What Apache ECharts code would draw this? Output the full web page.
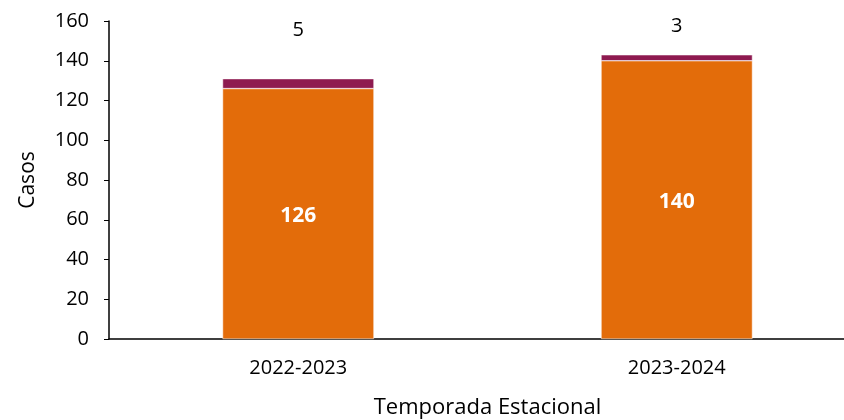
<!DOCTYPE html>
<html>
<head>
<meta charset="utf-8">
<script src="https://cdn.jsdelivr.net/npm/echarts@6/dist/echarts.min.js"></script>
<style>
  html, body { margin: 0; padding: 0; background: #fff; }
  #chart { width: 844px; height: 420px; }
</style>
</head>
<body>
<div id="chart"></div>
<script>
const seasons = ["2022-2023", "2023-2024"];
const mainCases = [126, 140];
const otherCases = [5, 3];
const otherLabelOffsets = [-33, -13];

const font = "'Open Sans', 'Noto Sans', sans-serif";
const chart = echarts.init(document.getElementById("chart"));

chart.setOption({
  animation: false,
  grid: { left: 109, right: -22, top: 21, bottom: 81, outerBoundsMode: "none", containLabel: false },
  xAxis: {
    type: "category",
    data: seasons,
    name: "Temporada Estacional",
    nameLocation: "middle",
    nameGap: 58,
    nameTextStyle: { color: "#000", fontSize: 22, fontFamily: font },
    axisLine: { lineStyle: { color: "#000", width: 1.5 } },
    axisTick: { alignWithLabel: true, length: 5, lineStyle: { color: "#000" } },
    axisLabel: { color: "#000", fontSize: 20, fontFamily: font, margin: 19 },
  },
  yAxis: {
    type: "value",
    min: 0,
    max: 160,
    interval: 20,
    name: "Casos",
    nameLocation: "middle",
    nameGap: 70,
    nameTextStyle: { color: "#000", fontSize: 21, fontFamily: font },
    axisLine: { show: true, lineStyle: { color: "#000", width: 1.5 } },
    axisTick: { show: true, length: 5, lineStyle: { color: "#000" } },
    axisLabel: { color: "#000", fontSize: 20, fontFamily: font, margin: 20 },
    splitLine: { show: false },
  },
  series: [
    {
      type: "bar",
      stack: "total",
      data: mainCases,
      barWidth: "40%",
      itemStyle: { color: "#E36C0A", borderColor: "#fff", borderWidth: 0.5 },
      label: {
        show: true,
        position: "inside",
        offset: [0, 2],
        color: "#fff",
        fontWeight: "bold",
        fontSize: 21,
        fontFamily: font,
      },
    },
    {
      type: "bar",
      stack: "total",
      data: otherCases.map((v, i) => ({
        value: v,
        label: { offset: [0, otherLabelOffsets[i]] },
      })),
      barWidth: "40%",
      itemStyle: { color: "#8E1A50", borderColor: "#fff", borderWidth: 0.5 },
      label: {
        show: true,
        position: "top",
        color: "#000",
        fontSize: 20,
        fontFamily: font,
      },
    },
  ],
});
</script>
</body>
</html>
